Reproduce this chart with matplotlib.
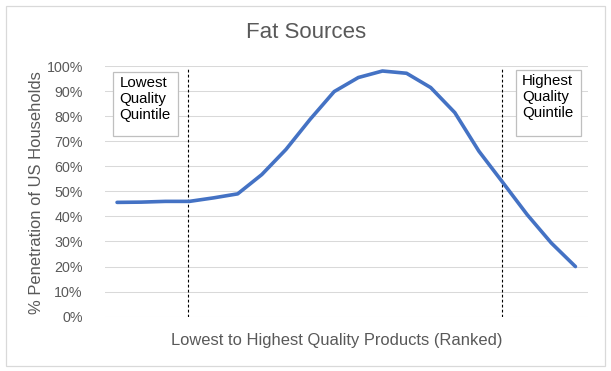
import matplotlib
matplotlib.use("Agg")
import matplotlib.pyplot as plt
from matplotlib.patches import Rectangle
from matplotlib.ticker import FuncFormatter

plt.rcParams['font.family'] = ['Liberation Sans', 'DejaVu Sans']

# Data
ranks = list(range(1, 21))
penetration = [45.6, 45.7, 46.0, 46.0, 47.4, 49.0, 56.7, 66.7, 78.7, 89.8,
               95.4, 98.0, 97.1, 91.4, 81.4, 66.0, 53.4, 40.7, 29.4, 20.0]
yticks = [0, 10, 20, 30, 40, 50, 60, 70, 80, 90, 100]
quintile_marks = [3.95, 16.97]  # rank positions of dashed separators
title = "Fat Sources"
ylabel = "% Penetration of US Households"
xlabel = "Lowest to Highest Quality Products (Ranked)"
box_left = "Lowest\nQuality\nQuintile"
box_right = "Highest\nQuality\nQuintile"

W, H = 611, 371
fig = plt.figure(figsize=(W / 100, H / 100), dpi=100)

def fx(x):
    return x / W

def fy(y):
    return 1 - y / H

# chart border
fig.patches.append(Rectangle((fx(6), fy(365.5)), fx(605) - fx(6), fy(6) - fy(365.5),
                             transform=fig.transFigure, fill=False,
                             edgecolor='#D9D9D9', linewidth=0.9))

L, R, T, B = 105, 587.5, 66, 316.7
ax = fig.add_axes([fx(L), fy(B), fx(R) - fx(L), fy(T) - fy(B)])
ax.set_xlim(0.5, 20.5)
ax.set_ylim(0, 100)
for s in ax.spines.values():
    s.set_visible(False)
ax.set_yticks(yticks)
ax.yaxis.set_major_formatter(FuncFormatter(lambda v, p: f"{int(v)}%"))
ax.set_xticks([])
ax.tick_params(axis='y', length=0, pad=16, labelsize=10.3, labelcolor='#595959')
ax.grid(axis='y', color='#D9D9D9', linewidth=0.75)
ax.set_axisbelow(True)

ax.plot(ranks, penetration, color='#4472C4', linewidth=2.6, solid_capstyle='round',
        solid_joinstyle='round', zorder=3)

for xm in quintile_marks:
    ax.plot([xm, xm], [0, 99], color='black', linewidth=0.8, linestyle=(0, (2.5, 2)), zorder=2)

fig.text(fx(306), fy(32), title, ha='center', va='center', fontsize=16, color='#595959')
fig.text(fx(36.5), fy(192.3), ylabel, ha='center', va='center', rotation=90,
         fontsize=11.9, color='#595959')
fig.text(fx(336.7), fy(340), xlabel, ha='center', va='center', fontsize=11.9, color='#595959')

def box(x0, y0, x1, y1, txt):
    fig.patches.append(Rectangle((fx(x0), fy(y1)), fx(x1) - fx(x0), fy(y0) - fy(y1),
                                 transform=fig.transFigure, facecolor='white',
                                 edgecolor='#BFBFBF', linewidth=0.9, zorder=5))
    fig.text(fx(x0 + 6), fy(y0 + 4.5), txt, ha='left', va='top', fontsize=10.8,
             color='black', linespacing=1.18, zorder=6)

box(113.3, 71.7, 178.3, 136, box_left)
box(516, 70, 580.7, 135.7, box_right)

fig.savefig('out.png', dpi=100)
